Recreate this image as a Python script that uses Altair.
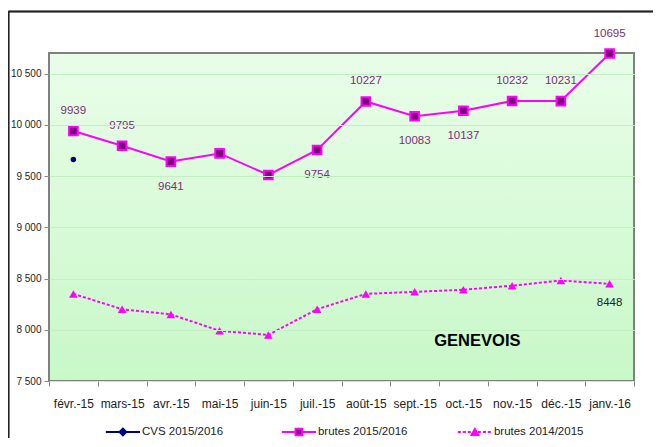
import altair as alt
import pandas as pd

months = ["févr.-15", "mars-15", "avr.-15", "mai-15", "juin-15", "juil.-15",
          "août-15", "sept.-15", "oct.-15", "nov.-15", "déc.-15", "janv.-16"]
brutes_1516 = [9939, 9795, 9641, 9720, 9510, 9754, 10227, 10083, 10137, 10232, 10231, 10695]
brutes_1415 = [8350, 8200, 8150, 7990, 7950, 8200, 8350, 8370, 8390, 8430, 8480, 8448]
cvs_1516 = [9660]
cvs_months = ["févr.-15"]
labels_above = ["févr.-15", "mars-15", "août-15", "nov.-15", "déc.-15", "janv.-16"]
labels_below = ["avr.-15", "juil.-15", "sept.-15", "oct.-15"]
label_1415 = ["janv.-16"]
series = ["CVS 2015/2016", "brutes 2015/2016", "brutes 2014/2015"]
y_ticks = [7500, 8000, 8500, 9000, 9500, 10000, 10500]
title_text = "GENEVOIS"
title_month = "oct.-15"
title_value = 7890

FONT = "Liberation Sans Narrow, Liberation Sans, Arial"
MAGENTA = "#ff00ff"
PURPLE = "#800080"
NAVY = "#000080"
LABEL = "#7a2e7a"

W, H = 585, 328

df1516 = pd.DataFrame({"month": months, "value": brutes_1516})
df1415 = pd.DataFrame({"month": months, "value": brutes_1415})
dfcvs = pd.DataFrame({"month": cvs_months, "value": cvs_1516})
df_above = df1516[df1516.month.isin(labels_above)]
df_below = df1516[df1516.month.isin(labels_below)]
df_l1415 = df1415[df1415.month.isin(label_1415)]
df_title = pd.DataFrame({"month": [title_month], "value": [title_value], "t": [title_text]})

xscale = alt.Scale(type="band", domain=months, paddingInner=0, paddingOuter=0)
yscale = alt.Scale(domain=[7500, 10700], nice=False, zero=False)

x_axis = alt.Axis(title=None, labelAngle=0, tickBand="extent", labelFont=FONT, labelFontSize=12,
                  labelColor="#222", tickColor="#888", tickSize=5, labelPadding=12, domain=False,
                  grid=False, zindex=1)
y_axis = alt.Axis(title=None, values=y_ticks, labelExpr="replace(format(datum.value, ','), ',', ' ')",
                  labelFont=FONT, labelFontSize=10, labelColor="#222", tickColor="#888", tickSize=5,
                  labelPadding=3, domain=False, grid=True, gridColor="#c2f0c2", gridWidth=1, zindex=1)

X = alt.X("month:N", scale=xscale, bandPosition=0.5, axis=x_axis)
Y = alt.Y("value:Q", scale=yscale, axis=y_axis)

line1415 = alt.Chart(df1415).mark_line(color=MAGENTA, strokeWidth=2, strokeDash=[3, 2]).encode(x=X, y=Y)
pts1415 = alt.Chart(df1415).mark_point(shape="triangle-up", filled=True, color=MAGENTA, size=75,
                                       opacity=1).encode(x=X, y=Y)
line1516 = alt.Chart(df1516).mark_line(color=MAGENTA, strokeWidth=2).encode(x=X, y=Y)
pts1516 = alt.Chart(df1516).mark_point(shape="square", filled=True, fill=PURPLE, stroke=MAGENTA,
                                       strokeWidth=2, size=75, opacity=1).encode(x=X, y=Y)
ptscvs = alt.Chart(dfcvs).mark_point(shape="circle", filled=True, color=NAVY, size=30,
                                     opacity=1).encode(x=X, y=Y)

lab_above = alt.Chart(df_above).mark_text(font=FONT, fontSize=11.5, color=LABEL, dy=-20).encode(
    x=X, y=Y, text="value:Q")
lab_below = alt.Chart(df_below).mark_text(font=FONT, fontSize=11.5, color=LABEL, dy=25).encode(
    x=X, y=Y, text="value:Q")
lab_1415 = alt.Chart(df_l1415).mark_text(font=FONT, fontSize=11.5, color="#222", dy=19).encode(
    x=X, y=Y, text="value:Q")
title = alt.Chart(df_title).mark_text(font=FONT, fontSize=16.5, fontWeight="bold", color="#000",
                                      dx=14).encode(x=X, y=Y, text="t:N")

main = alt.layer(line1415, pts1415, ptscvs, line1516, pts1516, lab_above, lab_below, lab_1415, title)

# legend (built from the series list, positioned through its own linear scale)
leg = pd.DataFrame({"series": series, "slot": list(range(len(series)))})
lx = alt.Scale(domain=[-0.42, 2.904], nice=False, zero=False)
LEG_Y = H + 51
col = alt.Color("series:N", scale=alt.Scale(domain=series, range=[NAVY, MAGENTA, MAGENTA]), legend=None)
base = alt.Chart(leg).transform_calculate(x0="datum.slot - 0.097", x1="datum.slot + 0.097",
                                          xt="datum.slot + 0.108")
leg_lines = base.mark_rule(strokeWidth=2).encode(
    x=alt.X("x0:Q", scale=lx, axis=None), x2="x1:Q", y=alt.value(LEG_Y), color=col,
    strokeDash=alt.StrokeDash("series:N", scale=alt.Scale(domain=series, range=[[1, 0], [1, 0], [3, 2]]),
                              legend=None))
leg_pts = base.mark_point(filled=True, size=45, strokeWidth=2, opacity=1).encode(
    x=alt.X("slot:Q", scale=lx, axis=None), y=alt.value(LEG_Y),
    shape=alt.Shape("series:N", scale=alt.Scale(domain=series, range=["diamond", "square", "triangle-up"]),
                    legend=None),
    fill=alt.Fill("series:N", scale=alt.Scale(domain=series, range=[NAVY, PURPLE, MAGENTA]), legend=None),
    stroke=alt.Stroke("series:N", scale=alt.Scale(domain=series, range=[NAVY, MAGENTA, MAGENTA]),
                      legend=None))
leg_text = base.mark_text(font=FONT, fontSize=11.5, color="#222", align="left", baseline="middle").encode(
    x=alt.X("xt:Q", scale=lx, axis=None), y=alt.value(LEG_Y), text="series:N")

frame_top = alt.Chart(leg).mark_rule(color="#222", strokeWidth=1.5).encode(
    x=alt.value(-40.5), x2=alt.value(W + 20), y=alt.value(-41.5))
frame_left = alt.Chart(leg).mark_rule(color="#222", strokeWidth=1.5).encode(
    x=alt.value(-40.5), y=alt.value(-41.5), y2=alt.value(H + 60))

legend_layer = alt.layer(leg_lines, leg_pts, leg_text, frame_top, frame_left)

bg = alt.Chart(leg).mark_rect(
    color=alt.LinearGradient(gradient="linear", x1=0, x2=0, y1=0, y2=1,
                             stops=[alt.GradientStop(color="#e9fde9", offset=0),
                                    alt.GradientStop(color="#c8f8c8", offset=1)]),
    stroke="#808080", strokeWidth=2,
).encode(x=alt.value(0), x2=alt.value(W), y=alt.value(0), y2=alt.value(H))

chart = alt.layer(bg, main, legend_layer).resolve_scale(
    x="independent", color="independent", shape="independent", fill="independent",
    stroke="independent", strokeDash="independent"
).properties(
    width=W, height=H,
    autosize=alt.AutoSizeParams(type="none"),
    padding={"left": 41, "top": 45, "right": 19, "bottom": 57},
    background="white",
).configure_view(stroke=None)

chart.save("out.html", embed_options={"renderer": "svg", "actions": False})
